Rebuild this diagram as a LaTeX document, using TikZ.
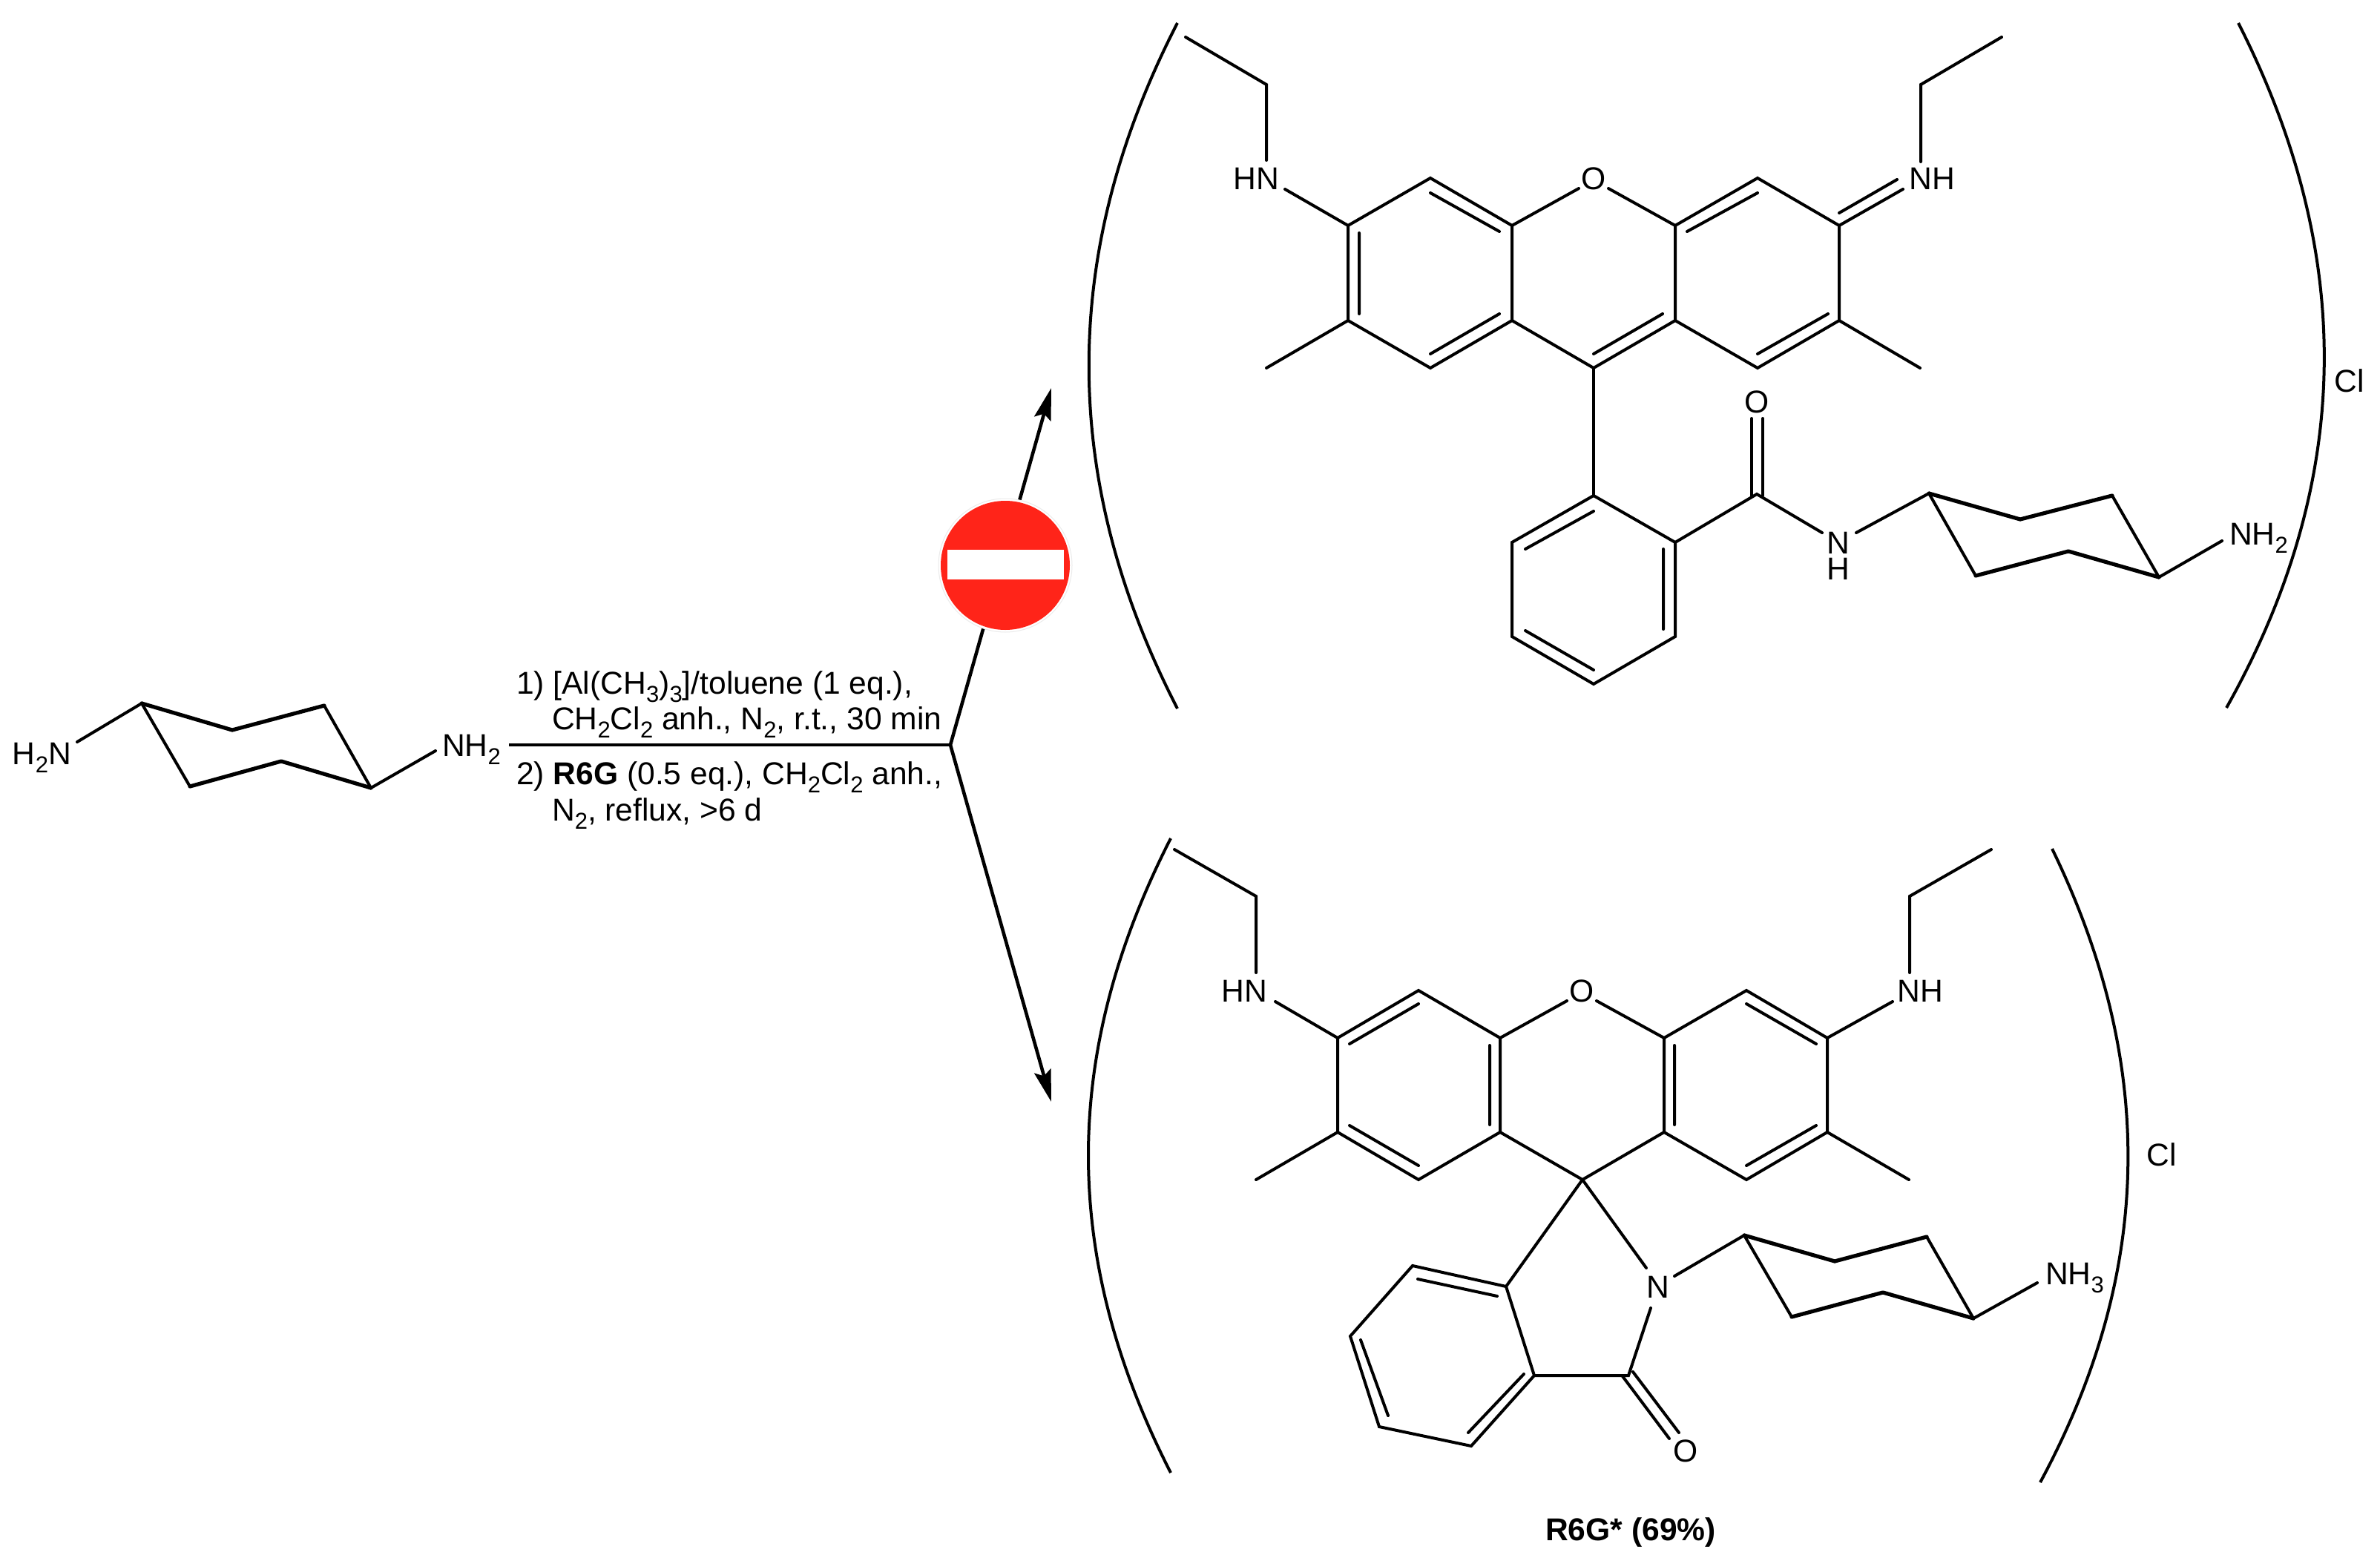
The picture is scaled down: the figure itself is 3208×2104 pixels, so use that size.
\documentclass[tikz,border=0pt]{standalone}
\usepackage{fontspec}
\setmainfont{Liberation Sans}
\usetikzlibrary{arrows.meta}
\newcommand{\sbs}[1]{\raisebox{-0.26em}{\fontsize{15.5}{16}\selectfont #1}}
\tikzset{
  x=0.5pt,y=-0.5pt,
  bond/.style={line width=2pt,line cap=round,line join=miter,black},
  wedgebond/.style={line width=2.6pt,line cap=round,line join=round,black},
  lab/.style={inner sep=0pt,outer sep=0pt,font=\fontsize{21.3}{24}\selectfont,text=black},
  arrowline/.style={line width=2.3pt,black},
  tip/.style={-{Stealth[length=21.5pt,width=11.5pt,inset=3.5pt]}},
  brk/.style={line width=2pt,black}
}
\definecolor{signred}{HTML}{FF2419}
\begin{document}
\begin{tikzpicture}
\useasboundingbox (0,0) rectangle (3208,2104);
\fill[white] (0,0) rectangle (3208,2104);
% ---------- starting diamine
\coordinate (sA) at (191,948); \coordinate (sB) at (313,984); \coordinate (sC) at (437,951);
\coordinate (sD) at (500,1062); \coordinate (sE) at (379,1026); \coordinate (sF) at (256,1060);
\coordinate (sN1) at (104,1000); \coordinate (sN2) at (587,1012);
\node[lab,anchor=base west] (sH2N) at (17,1030) {H\sbs{2}N};
\node[lab,anchor=base west] (sNH2) at (596,1019) {NH\sbs{2}};
\draw[bond] (sN1)--(sA)--(sF) (sC)--(sD)--(sN2);
\draw[wedgebond] (sA)--(sB)--(sC) (sF)--(sE)--(sD);
% ---------- reaction arrows
\coordinate (r0) at (686,1004); \coordinate (r1) at (1281,1004);
\coordinate (rU) at (1417,523); \coordinate (rD) at (1417,1485);
\draw[arrowline] (r0)--(r1);
\draw[arrowline,tip] (r1)--(rU);
\draw[arrowline,tip] (r1)--(rD);
\node[circle,fill=white,draw=black!8,line width=0.5pt,minimum size=90pt,inner sep=0pt] (halo) at (1355,762) {};
\node[circle,fill=signred,minimum size=87pt,inner sep=0pt] (sign) at (1355,762) {};
\node[rectangle,fill=white,minimum width=78.5pt,minimum height=20pt,inner sep=0pt] (bar) at (1355,761) {};
% ---------- reaction text
\node[lab,anchor=base west] (t1) at (696,935) {1) [Al(CH\sbs{3})\sbs{3}]/toluene (1 eq.),};
\node[lab,anchor=base west] (t2) at (744,983) {CH\sbs{2}Cl\sbs{2} anh., N\sbs{2}, r.t., 30 min};
\node[lab,anchor=base west] (t3) at (696,1057) {2) \textbf{R6G} (0.5 eq.), CH\sbs{2}Cl\sbs{2} anh.,};
\node[lab,anchor=base west] (t4) at (744,1106) {N\sbs{2}, reflux, >6 d};
% ---------- top product
\coordinate (a) at (1817,304); \coordinate (b) at (1928,240); \coordinate (c) at (2038,304);
\coordinate (d) at (2038,432); \coordinate (e) at (1928,496); \coordinate (f) at (1817,432);
\coordinate (g) at (2258,304); \coordinate (h) at (2258,432); \coordinate (i) at (2148,496);
\coordinate (j) at (2369,240); \coordinate (k) at (2479,304); \coordinate (l) at (2479,432); \coordinate (m) at (2369,496);
\node[lab] (tO) at (2148,241) {O};
\node[lab] (tHN) at (1693,241) {HN};
\node[lab] (tNH) at (2604,241) {NH};
\draw[bond] (a)--(b)--(c)--(d)--(e)--(f)--cycle;
\draw[bond] (g)--(j)--(k)--(l)--(m)--(h)--cycle;
\draw[bond] (d)--(i)--(h);
\draw[bond] (c)--(2128,254) (2168,254)--(g);
\draw[bond] (1832,314)--(1832,423) (1928,260)--(2021,312) (2021,423)--(1928,477);
\draw[bond] (2241,423)--(2148,477) (2274,312)--(2369,260) (2464,423)--(2369,477);
\draw[bond] (f)--(1707,496) (l)--(2588,496);
\draw[bond] (1732,255)--(a) (1707,216)--(1707,114)--(1598,50);
\draw[bond] (2589,218)--(2589,114)--(2698,50);
\draw[bond] (k)--(2565,255) (2479,287)--(2557,242);
% phenyl
\coordinate (p1) at (2148,668); \coordinate (p2) at (2258,731); \coordinate (p3) at (2258,858);
\coordinate (p4) at (2148,922); \coordinate (p5) at (2038,858); \coordinate (p6) at (2038,731);
\draw[bond] (p1)--(p2)--(p3)--(p4)--(p5)--(p6)--cycle;
\draw[bond] (i)--(p1);
\draw[bond] (2148,689)--(2056,740) (2242,740)--(2242,848) (2056,850)--(2148,903);
\coordinate (co) at (2368,666);
\node[lab] (tOc) at (2368,542) {O};
\draw[bond] (p2)--(co)--(2456,718);
\draw[bond] (2361,564)--(2361,668) (2376,564)--(2376,668);
\node[lab,align=center,font=\fontsize{21.3}{17.5}\selectfont] (tN) at (2478,749.5) {N\\H};
\coordinate (cA) at (2600,665); \coordinate (cB) at (2723,700); \coordinate (cC) at (2847,668);
\coordinate (cD) at (2910,778); \coordinate (cE) at (2788,743); \coordinate (cF) at (2663,776);
\draw[bond] (2502,718)--(cA)--(cF) (cC)--(cD)--(2995,729);
\draw[wedgebond] (cA)--(cB)--(cC) (cF)--(cE)--(cD);
\node[lab,anchor=base west] (tNH2) at (3005,734) {NH\sbs{2}};
\node[lab] (tCl) at (3167,513) {Cl};
\draw[brk] (1587,31) .. controls (1428,340) and (1428,646) .. (1587,955);
\draw[brk] (3017,31) .. controls (3174,340) and (3174,646) .. (3001,954);
% ---------- bottom product
\coordinate (A) at (1803,1399); \coordinate (B) at (1912,1335); \coordinate (C) at (2022,1399);
\coordinate (D) at (2022,1526); \coordinate (E) at (1912,1590); \coordinate (F) at (1803,1526);
\coordinate (G) at (2243,1399); \coordinate (H) at (2243,1526); \coordinate (I) at (2133,1590);
\coordinate (J) at (2354,1335); \coordinate (K) at (2463,1399); \coordinate (L) at (2463,1526); \coordinate (M) at (2354,1590);
\node[lab] (bO) at (2132,1336) {O};
\node[lab] (bHN) at (1677,1336) {HN};
\node[lab] (bNH) at (2588,1336) {NH};
\draw[bond] (A)--(B)--(C)--(D)--(E)--(F)--cycle;
\draw[bond] (G)--(J)--(K)--(L)--(M)--(H)--cycle;
\draw[bond] (D)--(I)--(H);
\draw[bond] (C)--(2112,1349) (2152,1349)--(G);
\draw[bond] (1819,1407)--(1912,1353) (1819,1517)--(1912,1571) (2008,1409)--(2008,1516);
\draw[bond] (2257,1409)--(2257,1516) (2354,1353)--(2448,1407) (2448,1517)--(2354,1571);
\draw[bond] (F)--(1693,1590) (L)--(2573,1590);
\draw[bond] (1719,1350)--(A) (1693,1311)--(1693,1208)--(1583,1145);
\draw[bond] (2551,1350)--(K) (2574,1311)--(2574,1208)--(2684,1145);
\coordinate (q1) at (2030,1734); \coordinate (q2) at (1904,1706); \coordinate (q3) at (1820,1801);
\coordinate (q4) at (1859,1923); \coordinate (q5) at (1983,1949); \coordinate (q6) at (2068,1854);
\coordinate (qC) at (2195,1854);
\draw[bond] (q1)--(q2)--(q3)--(q4)--(q5)--(q6)--cycle;
\draw[bond] (I)--(q1) (I)--(2219,1709) (q6)--(qC)--(2225,1763);
\draw[bond] (2018,1747)--(1911,1724) (1834,1806)--(1871,1908) (1979,1931)--(2054,1852);
\draw[bond] (2201,1849)--(2263,1931) (2187,1855)--(2250,1939);
\node[lab] (bN) at (2235,1735) {N};
\node[lab] (bOc) at (2272,1956) {O};
\coordinate (QA) at (2351,1665); \coordinate (QB) at (2473,1700); \coordinate (QC) at (2597,1667);
\coordinate (QD) at (2660,1777); \coordinate (QE) at (2538,1742); \coordinate (QF) at (2415,1775);
\draw[bond] (2257,1720)--(QA)--(QF) (QC)--(QD)--(2746,1729);
\draw[wedgebond] (QA)--(QB)--(QC) (QF)--(QE)--(QD);
\node[lab,anchor=base west] (bNH3) at (2757,1731) {NH\sbs{3}};
\node[lab] (bCl) at (2914,1556) {Cl};
\draw[brk] (1578,1130) .. controls (1430,1420) and (1430,1695) .. (1578,1985);
\draw[brk] (2766,1144) .. controls (2905,1430) and (2905,1710) .. (2750,1998);
\node[lab,font=\fontsize{21.3}{24}\selectfont\bfseries] (bLbl) at (2198,2065) {R6G* (69\%)};
\end{tikzpicture}
\end{document}
